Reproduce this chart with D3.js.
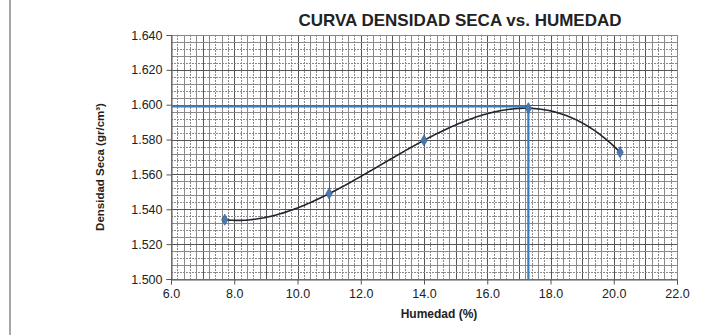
<!DOCTYPE html>
<html>
<head>
<meta charset="utf-8">
<script src="https://cdn.jsdelivr.net/npm/d3@7"></script>
<style>
  html, body { margin: 0; padding: 0; background: #fff; }
  svg { display: block; font-family: "Liberation Sans", Arial, sans-serif; }
</style>
</head>
<body>
<svg id="chart" width="707" height="335"></svg>
<script>
// Ensayo Proctor: humedad (%) y densidad seca (gr/cm³)
const humedad = [7.7, 11.0, 14.0, 17.3, 20.2];
const densidad = [1.534, 1.549, 1.5795, 1.598, 1.5727];

// Humedad óptima y densidad seca máxima
const humedadOptima = 17.3;
const densidadMaxima = 1.599;

const xTicks = [6, 8, 10, 12, 14, 16, 18, 20, 22];
const yTicks = [1.50, 1.52, 1.54, 1.56, 1.58, 1.60, 1.62, 1.64];

const svg = d3.select("#chart");
const m = { left: 171, top: 35, right: 677, bottom: 279 };

const x = d3.scaleLinear().domain([6, 22]).range([m.left, m.right]);
const y = d3.scaleLinear().domain([1.5, 1.64]).range([m.bottom, m.top]);

// Marco del gráfico
svg.append("line").attr("x1", 10).attr("x2", 10).attr("y1", 0).attr("y2", 335)
  .attr("stroke", "#888").attr("stroke-width", 1.5);

// Cuadrícula menor y mayor
const grid = svg.append("g");
const xMinor = d3.range(6, 22.001, 0.2);
const yMinor = d3.range(1.5, 1.6401, 0.004);
grid.selectAll(".vx").data(xMinor).join("line")
  .attr("x1", d => Math.round(x(d)) + 0.5).attr("x2", d => Math.round(x(d)) + 0.5)
  .attr("y1", m.top).attr("y2", m.bottom)
  .attr("stroke", (d, i) => i % 5 === 0 ? "#555" : "#8a8a8a")
  .attr("stroke-width", 1)
  .attr("stroke-dasharray", (d, i) => (i % 5 === 0 || i % 2 === 0) ? null : "2,1");
grid.selectAll(".hy").data(yMinor).join("line")
  .attr("y1", d => Math.round(y(d)) + 0.5).attr("y2", d => Math.round(y(d)) + 0.5)
  .attr("x1", m.left).attr("x2", m.right)
  .attr("stroke", (d, i) => i % 5 === 0 ? "#555" : "#8a8a8a")
  .attr("stroke-width", 1)
  .attr("stroke-dasharray", (d, i) => (i % 5 === 0 || i % 2 === 0) ? null : "2,1");

// Borde del área de trazado
svg.append("rect").attr("x", m.left + 0.5).attr("y", m.top + 0.5)
  .attr("width", m.right - m.left).attr("height", m.bottom - m.top)
  .attr("fill", "none").attr("stroke", "#888");

// Ejes
const xAxis = svg.append("g").attr("transform", `translate(0,${m.bottom + 0.5})`)
  .call(d3.axisBottom(x).tickValues(xTicks).tickFormat(d3.format(".1f")).tickSizeOuter(0).tickSize(5).tickPadding(5));
const yAxis = svg.append("g").attr("transform", `translate(${m.left + 0.5},0)`)
  .call(d3.axisLeft(y).tickValues(yTicks).tickFormat(d3.format(".3f")).tickSizeOuter(0).tickSize(5).tickPadding(4));
[xAxis, yAxis].forEach(a => {
  a.selectAll("path").attr("stroke", "#555");
  a.selectAll("line").attr("stroke", "#555");
  a.selectAll("text").attr("fill", "#222").style("font-size", "12.5px");
});

// Línea de tendencia polinómica de grado 3 (mínimos cuadrados)
function polyfit(xs, ys, deg) {
  const n = deg + 1;
  const A = Array.from({ length: n }, () => new Array(n + 1).fill(0));
  for (let k = 0; k < xs.length; k++) {
    for (let i = 0; i < n; i++) {
      for (let j = 0; j < n; j++) A[i][j] += Math.pow(xs[k], i + j);
      A[i][n] += ys[k] * Math.pow(xs[k], i);
    }
  }
  for (let i = 0; i < n; i++) {
    let p = i;
    for (let r = i + 1; r < n; r++) if (Math.abs(A[r][i]) > Math.abs(A[p][i])) p = r;
    [A[i], A[p]] = [A[p], A[i]];
    for (let r = 0; r < n; r++) {
      if (r === i) continue;
      const f = A[r][i] / A[i][i];
      for (let c = i; c <= n; c++) A[r][c] -= f * A[i][c];
    }
  }
  return A.map((row, i) => row[n] / row[i]);
}
const coef = polyfit(humedad, densidad, 3);
const trend = v => coef.reduce((s, c, i) => s + c * Math.pow(v, i), 0);
const trendPts = d3.range(humedad[0], humedad[humedad.length - 1] + 0.001, 0.05).map(v => [v, trend(v)]);

// Líneas de humedad óptima y densidad máxima
const blue = "#3a7dbd";
svg.append("line").attr("x1", x(6)).attr("x2", x(humedadOptima))
  .attr("y1", y(densidadMaxima)).attr("y2", y(densidadMaxima))
  .attr("stroke", blue).attr("stroke-width", 2.2);
svg.append("line").attr("x1", x(humedadOptima)).attr("x2", x(humedadOptima))
  .attr("y1", y(densidadMaxima)).attr("y2", y(1.5))
  .attr("stroke", blue).attr("stroke-width", 2.2);

svg.append("path").datum(trendPts)
  .attr("d", d3.line().x(d => x(d[0])).y(d => y(d[1])).curve(d3.curveLinear))
  .attr("fill", "none").attr("stroke", "#1f2630").attr("stroke-width", 1.6);

// Puntos del ensayo
svg.selectAll(".pt").data(humedad).join("path")
  .attr("transform", (d, i) => `translate(${x(d)},${y(densidad[i])})`)
  .attr("d", d3.symbol().type(d3.symbolDiamond).size(36))
  .attr("fill", "#4a78b0").attr("stroke", "#2f5a8e").attr("stroke-width", 0.6);

// Títulos
svg.append("text").attr("x", 460).attr("y", 26).attr("text-anchor", "middle")
  .style("font-size", "17px").style("font-weight", "bold").attr("fill", "#222")
  .text("CURVA DENSIDAD SECA vs. HUMEDAD");
svg.append("text").attr("x", 439).attr("y", 318).attr("text-anchor", "middle")
  .style("font-size", "12px").style("font-weight", "bold").attr("fill", "#222")
  .text("Humedad (%)");
svg.append("text").attr("transform", "translate(104,167) rotate(-90)").attr("text-anchor", "middle")
  .style("font-size", "11.5px").style("font-weight", "bold").attr("fill", "#222")
  .text("Densidad  Seca (gr/cm³)");
</script>
</body>
</html>
